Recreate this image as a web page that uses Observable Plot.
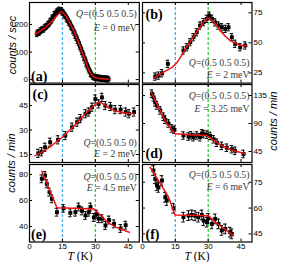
<!DOCTYPE html>
<html><head><meta charset="utf-8">
<script src="https://cdn.jsdelivr.net/npm/d3@7"></script>
<script src="https://cdn.jsdelivr.net/npm/@observablehq/plot@0.6"></script>
<style>
body{margin:0;background:#fff;}
#chart{position:relative;width:281px;height:262px;overflow:hidden;background:#fff;}
#chart svg{position:absolute;}
.ytitle{position:absolute;white-space:nowrap;font-family:"Liberation Sans",Arial,sans-serif;font-style:italic;font-size:11px;line-height:12px;transform:translate(-50%,-50%) rotate(-90deg);}
.xtitle{position:absolute;white-space:nowrap;font-family:"Liberation Serif","Times New Roman",serif;font-size:11.5px;line-height:12px;transform:translateX(-50%);}
</style></head><body><div id="chart"></div>
<script>
// ---- data ----
const xTicks = [0, 15, 30, 45];
const markT = [15, 30];

const aT = [3.5,4,4.5,5,5.5,6,6.5,7,7.5,8,8.5,9,9.5,10,10.5,11,11.5,12,12.5,13,13.5,14,14.5,15,15.5,16,16.5,17,17.5,18,18.5,19,19.5,20,20.5,21,21.5,22,22.5,23,23.5,24,24.5,25,25.5,26,26.5,27,27.5,28,28.5,29,29.5,30,30.5,31,31.5,32,32.5,33,33.5,34,34.5,35,35.5,36];
const aC = [166,171,170,177,179,183,182,189,192,194,200,203,211,214,224,227,237,239,246,249,253,251,252,245,243,234,231,222,217,208,204,193,188,177,171,159,152,141,133,121,113,101,92,79,70,57,49,38,31,21,17,11,9,8,6,8,5,6,4,5,3,4,3,2,3,1];
const aFitT = [2.5,5,8,10,12,13.5,14.5,16,18,20,22,24,26,28,29.5,31,33,36];
const aFitC = [165,177,195,210,228,240,246,236,211,179,143,99,56,21,9,5,3,1];
const aTicks = [0,100,200];

const bT = [5.8,7.3,8.9,11.6,18.7,20.3,21.8,23.3,24.8,26.3,27.9,29.4,30.5,31.7,33.2,34.7,36.2,37.8,39.3,40.8,42.3,44.6,46.9];
const bC = [21.9,22.7,24.7,32.5,43.6,46.3,50.5,54.7,58.8,64.4,67.2,70,72.7,70,67,64.4,63,61.6,63,54.7,49.2,46.3,47.8];
const bFitT = [5,10,15,20,24,27,29,30,31,33,36,40,44,47.7];
const bFitC = [20.7,26,32,46,57,65,69.5,70.5,70,66.5,59,52,48.5,47.5];
const bTicks = [25,50,75];

const cT = [4,5.5,7.1,9.4,13,16.3,19.4,21.7,23.2,25.5,27,28.5,30,31.5,33,34.5,36.9,39,41.5,43.8,45.3,47.6];
const cC = [15.7,16.7,19.4,22.5,24,26.6,31.7,34.8,37,40,41,44,49,46,50,45,44.4,42.5,42.5,41,40,41];
const cFitT = [2.5,7,12,15,18,21,24,27,30,32.3,34,37,41.5,47.6];
const cFitC = [14.3,17.5,22.5,25.6,29.5,33.5,38,42,45.5,47,45.5,43,40.9,39.9];
const cTicks = [15,30,45];

const dT = [4.3,5.1,5.8,6.6,8.1,9.6,10.4,11.9,13.4,14.6,18.7,21,22.2,23.3,24.8,26.3,27.2,27.9,29.4,30.9,32.5,34,36.2,38.5,40.8,42.3,46.1];
const dC = [138,132,124,119,111,101,96,90,82,80,70.7,69,71,68,70.7,68,74,73,72,70,64.6,59,54,51,48.6,46,41];
const dFitT = [4,7.3,11.1,14.9,22,29.4,32,36.2,41,46.9];
const dFitC = [140.3,116,89.5,73.4,72,70.7,64,54.6,47,41.3];
const dTicks = [45,90,135];

const eT = [5.6,7.1,7.9,9.1,10.2,12.5,15.5,18.6,20.9,22.4,23.9,25.5,27,27.8,29.3,30.5,31.5,33,34.6,36.2,38.5,41.5,43.8];
const eC = [76.7,79.2,72.8,66.4,61.3,51,54,50.5,51,55,52,48.5,51,55,47,49.5,46,46,40.8,45,42,38.5,41];
const eFitT = [5.6,12.5,20,29.3,32.5,35.5,39.3,45.4];
const eFitC = [82.5,54.5,54,53.5,48.5,43.3,39.5,35.6];
const eTicks = [40,60,80];

const fT = [5,5.8,6.6,7.3,8.9,10.4,11.1,14.2,18.7,21,22.5,24,25.5,27.1,27.9,29.4,30.1,31.7,33.2,34.7,36.2,37.8,40,40.8];
const fC = [81.8,77,73.1,72,76,66.3,64.4,59.9,54.7,55.6,56,55.6,54.7,56,52.7,51.8,54,50.8,53.7,50.8,47,47.9,46,45];
const fFitT = [3.5,11.9,14.9,22,30.1,33.2,41.6];
const fFitC = [83.7,66.3,56,55.8,55.6,51.8,44];
const fTicks = [45,60,75];

const errBars = [10, 3, 2.5, 6, 3, 2.8];
const tags = ["(a)","(b)","(c)","(d)","(e)","(f)"];
const qTexts = ["Q=(0.5 0.5 0.5)","Q=(0.5 0.5 0.5)","Q=(0.5 0.5 0)","Q=(0.5 0.5 0.5)","Q=(0.5 0.5 0)","Q=(0.5 0.5 0.5)"];
const eTexts = ["E = 0 meV","E = 2 meV","E = 2 meV","E = 3.25 meV","E = 4.5 meV","E = 6 meV"];

// ---- layout ----
const panels = [
  {T:aT,C:aC,fT:aFitT,fC:aFitC,ticks:aTicks,dom:[-12.7,280],frame:[29,2,138.8,82.6],side:"left",showX:false,curve:"monotone-x",tag:["bottom",1.5,-2],q:[15,29]},
  {T:bT,C:bC,fT:bFitT,fC:bFitC,ticks:bTicks,dom:[16.5,83.6],frame:[142,2,251.5,82.6],side:"right",showX:false,curve:"monotone-x",tag:["top",3,17],q:[64,76]},
  {T:cT,C:cC,fT:cFitT,fC:cFitC,ticks:cTicks,dom:[10.1,57.9],frame:[29,84,138.8,162],side:"left",showX:false,curve:"monotone-x",tag:["top",3,14.5],q:[61.5,73]},
  {T:dT,C:dC,fT:dFitT,fC:dFitC,ticks:dTicks,dom:[27.3,152.7],frame:[142,84,251.5,162],side:"right",showX:false,curve:"linear",tag:["bottom",3,-4.5],q:[14.5,27]},
  {T:eT,C:eC,fT:eFitT,fC:eFitC,ticks:eTicks,dom:[28.1,87.7],frame:[29,164,138.8,241.5],side:"left",showX:true,curve:"linear",tag:["bottom",1.5,-3],q:[15.5,27]},
  {T:fT,C:fC,fT:fFitT,fC:fFitC,ticks:fTicks,dom:[40.3,85.3],frame:[142,164,251.5,241.5],side:"right",showX:true,curve:"linear",tag:["bottom",3,-3],q:[13,25]}
];

const chart = document.getElementById("chart");
const mL = 30, mR = 30, mT = 4, mB = 22;
const svgns = "http://www.w3.org/2000/svg";

panels.forEach((p, i) => {
  const [x0, y0, x1, y1] = p.frame;
  const W = x1 - x0, H = y1 - y0;
  const err = errBars[i];
  const pts = p.T.map((t, j) => ({t, c: p.C[j]}));
  const fit = p.fT.map((t, j) => ({t, c: p.fC[j]}));
  const serif = "Liberation Serif, Times New Roman, serif";
  const svg = Plot.plot({
    width: W + mL + mR, height: H + mT + mB,
    marginLeft: mL, marginRight: mR, marginTop: mT, marginBottom: mB,
    style: {background: "none", overflow: "visible", maxWidth: "none", fontFamily: "Liberation Sans, Arial, sans-serif", fontSize: "8px", color: "black"},
    x: {domain: [0, 50], ticks: xTicks, axis: p.showX ? "bottom" : null, tickSize: 0, tickPadding: 1, label: null},
    y: {domain: p.dom, ticks: p.ticks, axis: p.side, tickSize: 0, tickPadding: 1.5, label: null},
    marks: [
      Plot.ruleX([markT[0]], {x: d => d, stroke: "#4ab0ee", strokeWidth: 1.3, strokeDasharray: "3,2"}),
      Plot.ruleX([markT[1]], {x: d => d, stroke: "#2fd42f", strokeWidth: 1.3, strokeDasharray: "3,2"}),
      Plot.ruleX(pts, {x: "t", y1: d => d.c - err, y2: d => d.c + err, stroke: "black", strokeWidth: 1}),
      Plot.ruleY(pts, {y: d => d.c + err, x1: d => d.t - 0.8, x2: d => d.t + 0.8, stroke: "black", strokeWidth: 1}),
      Plot.ruleY(pts, {y: d => d.c - err, x1: d => d.t - 0.8, x2: d => d.t + 0.8, stroke: "black", strokeWidth: 1}),
      Plot.dot(pts, {x: "t", y: "c", symbol: "square", r: 2.2, fill: "black", stroke: null}),
      Plot.line(fit, {x: "t", y: "c", stroke: "#ee1111", strokeWidth: 1.5, curve: p.curve}),
      Plot.tickY(p.ticks, {y: d => d, insetRight: W - 3, stroke: "black"}),
      Plot.tickY(p.ticks, {y: d => d, insetLeft: W - 3, stroke: "black"}),
      Plot.tickX(xTicks, {x: d => d, insetTop: H - 3, stroke: "black"}),
      Plot.tickX(xTicks, {x: d => d, insetBottom: H - 3, stroke: "black"}),
      Plot.frame({stroke: "black", strokeWidth: 1.2}),
      Plot.text([qTexts[i]], {frameAnchor: "top-right", dx: -2.5, dy: p.q[0], textAnchor: "end", lineAnchor: "bottom", fontFamily: serif, fontSize: 9.8, fill: "#3a3a3a"}),
      Plot.text([eTexts[i]], {frameAnchor: "top-right", dx: -2.5, dy: p.q[1], textAnchor: "end", lineAnchor: "bottom", fontFamily: serif, fontSize: 9.8, fill: "#3a3a3a"}),
      Plot.text([tags[i]], {frameAnchor: p.tag[0] + "-left", dx: p.tag[1], dy: p.tag[2], textAnchor: "start", lineAnchor: "bottom", fontFamily: serif, fontWeight: "bold", fontSize: 14, fill: "black"})
    ]
  });
  svg.style.left = (x0 - mL) + "px";
  svg.style.top = (y0 - mT) + "px";
  svg.querySelectorAll("text").forEach(t => {
    const s = t.textContent;
    if (/^(Q=|E =)/.test(s)) {
      t.textContent = "";
      const ts = document.createElementNS(svgns, "tspan");
      ts.setAttribute("font-style", "italic");
      ts.textContent = s[0];
      t.appendChild(ts);
      t.appendChild(document.createTextNode(s.slice(1)));
    }
  });
  chart.appendChild(svg);
});

function addDiv(cls, html, x, y) {
  const d = document.createElement("div");
  d.className = cls; d.innerHTML = html;
  d.style.left = x + "px"; d.style.top = y + "px";
  chart.appendChild(d);
}
addDiv("ytitle", "counts / sec", 12, 45);
addDiv("ytitle", "counts / min", 11, 163);
addDiv("ytitle", "counts / min", 273, 121);
addDiv("xtitle", "<i>T</i> (K)", 80, 250);
addDiv("xtitle", "<i>T</i> (K)", 197, 250);
</script></body></html>
